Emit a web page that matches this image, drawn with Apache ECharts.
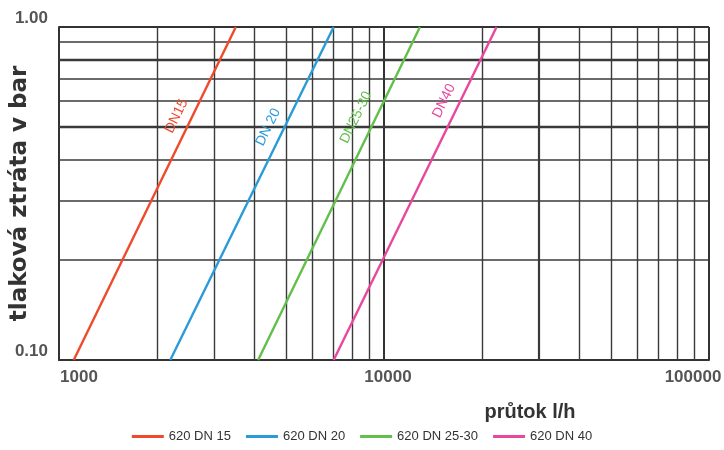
<!DOCTYPE html>
<html>
<head>
<meta charset="utf-8">
<script src="https://cdn.jsdelivr.net/npm/echarts@6/dist/echarts.min.js"></script>
<style>
  html, body { margin: 0; padding: 0; background: #fff; }
  #main { width: 724px; height: 450px; }
</style>
</head>
<body>
<div id="main"></div>
<script>
// data (flow l/h, pressure loss bar)
var seriesNames = ['620 DN 15', '620 DN 20', '620 DN 25-30', '620 DN 40'];
var lineLabels = ['DN15', 'DN 20', 'DN25-30', 'DN40'];
var dn15 = [[1110, 0.1], [3500, 1.0]];
var dn20 = [[2200, 0.1], [7000, 1.0]];
var dn25 = [[4100, 0.1], [12900, 1.0]];
var dn40 = [[7000, 0.1], [22200, 1.0]];
// where the rotated line labels sit (data coords)
var labelAt = [[2300, 0.54], [4400, 0.5], [8200, 0.535], [15300, 0.6]];

var xTicks = [1000, 10000, 100000];
var yTicks = [0.1, 1.0];
var xMinor = [2000, 3000, 4000, 5000, 6000, 7000, 8000, 9000,
              20000, 30000, 40000, 50000, 60000, 70000, 80000, 90000];
var yMinor = [0.2, 0.3, 0.4, 0.5, 0.6, 0.7, 0.8, 0.9];
var thickY = [0.8, 0.5];
var thickX = [30000];

var colors = ['#ef4a2c', '#2a9ad8', '#61bf4a', '#e9479e'];
var font = 'Liberation Sans Narrow, Liberation Sans, Arial, sans-serif';

function gridLines(){
    var d = [];
    xMinor.forEach(function(v){
        d.push({xAxis: v, lineStyle: {width: thickX.indexOf(v) >= 0 ? 2.2 : 1.4}});
    });
    yMinor.forEach(function(v){
        d.push({yAxis: v, lineStyle: {width: thickY.indexOf(v) >= 0 ? 2.4 : 1.5}});
    });
    return d;
}

var lines = [dn15, dn20, dn25, dn40];
var series = [{
    name: 'grid',
    type: 'line',
    data: [],
    silent: true,
    markLine: {
        silent: true,
        symbol: ['none', 'none'],
        label: {show: false},
        lineStyle: {color: '#3a3a3a', type: 'solid', width: 1.4},
        emphasis: {disabled: true},
        animation: false,
        data: gridLines()
    }
}];
lines.forEach(function(d, i){
    series.push({
        name: seriesNames[i],
        type: 'line',
        data: d,
        symbol: 'none',
        lineStyle: {width: 2.4, color: colors[i]},
        itemStyle: {color: colors[i]},
        z: 5,
        markPoint: {
            symbol: 'circle',
            symbolSize: 0,
            data: [{
                coord: labelAt[i],
                label: {
                    show: true,
                    formatter: lineLabels[i],
                    rotate: 64,
                    color: colors[i],
                    fontSize: 14,
                    fontFamily: font
                }
            }]
        }
    });
});

var tickStyle = {color: '#555', fontSize: 17, fontWeight: 'bold', fontFamily: font};

var option = {
    animation: false,
    backgroundColor: '#fff',
    grid: {left: 59, right: 15, top: 27, bottom: 90, containLabel: false, outerBoundsMode: 'none'},
    legend: {
        data: seriesNames,
        bottom: 2,
        left: 'center',
        icon: 'rect',
        itemWidth: 32,
        itemHeight: 3,
        itemGap: 15,
        textStyle: {color: '#333', fontSize: 13, fontFamily: font}
    },
    xAxis: {
        type: 'log',
        logBase: 10,
        min: 1000,
        max: 100000,
        name: 'průtok l/h',
        nameLocation: 'middle',
        nameGap: 42,
        nameMoveOverlap: false,
        nameTextStyle: {
            fontSize: 20, fontWeight: 'bold', color: '#333',
            fontFamily: font, padding: [0, 0, 0, 292]
        },
        axisLine: {show: true, lineStyle: {color: '#333', width: 2}},
        axisTick: {show: false},
        axisLabel: {
            margin: 9,
            formatter: function(v){
                if (v === xTicks[0]) return '{a|' + v + '}';
                if (v === xTicks[2]) return '{c|' + v + '}';
                return xTicks.indexOf(v) >= 0 ? '{b|' + v + '}' : '';
            },
            rich: {
                a: Object.assign({padding: [0, 0, 0, 40]}, tickStyle),
                b: Object.assign({padding: [0, 0, 0, 8]}, tickStyle),
                c: Object.assign({padding: [0, 32, 0, 0]}, tickStyle)
            }
        },
        splitLine: {show: true, lineStyle: {color: '#333', width: 2}}
    },
    yAxis: {
        type: 'log',
        logBase: 10,
        min: 0.1,
        max: 1,
        name: 'tlaková ztráta v bar',
        nameLocation: 'middle',
        nameGap: 27,
        nameMoveOverlap: false,
        nameTextStyle: {
            fontSize: 23, fontWeight: 'bold', color: '#333',
            fontFamily: 'DejaVu Sans, sans-serif'
        },
        axisLine: {show: true, lineStyle: {color: '#333', width: 2}},
        axisTick: {show: false},
        axisLabel: Object.assign({
            margin: 11,
            verticalAlign: 'bottom',
            formatter: function(v){ return v.toFixed(2); }
        }, tickStyle),
        splitLine: {show: true, lineStyle: {color: '#333', width: 2}}
    },
    series: series
};

var myChart = echarts.init(document.getElementById('main'));
myChart.setOption(option);
</script>
</body>
</html>
